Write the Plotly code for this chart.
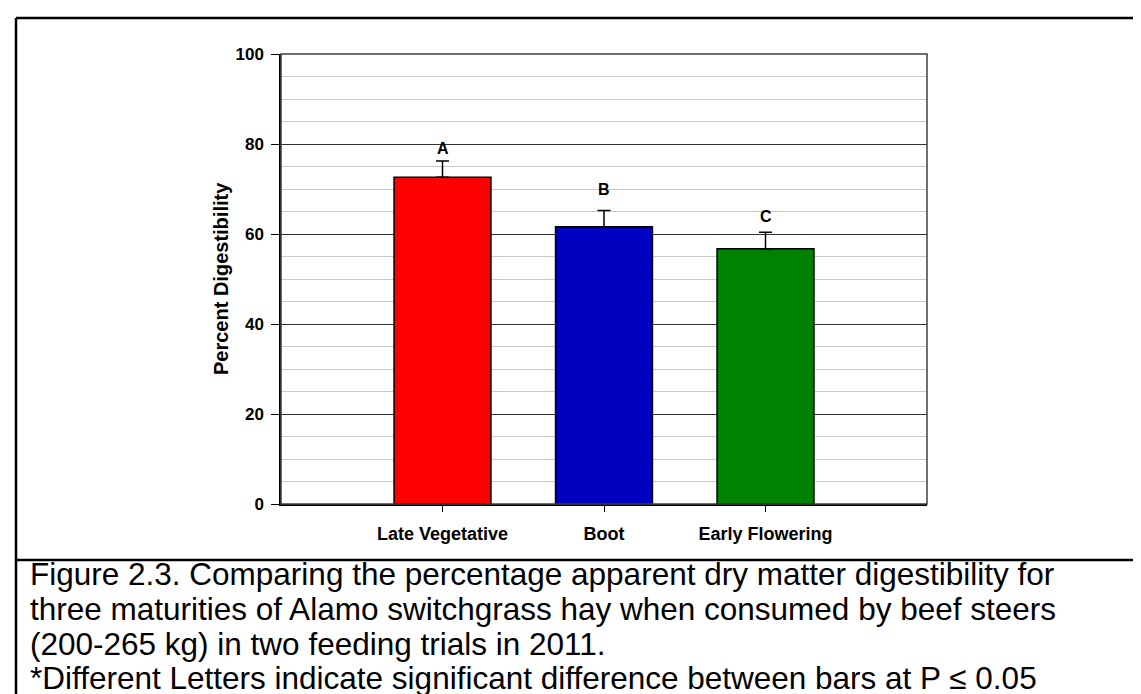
import plotly.graph_objects as go

# ---- data ----
categories = ["Late Vegetative", "Boot", "Early Flowering"]
digestibility = [72.6, 61.6, 56.7]
std_error = [3.6, 3.6, 3.7]
sig_letters = ["A", "B", "C"]
letter_y = [79.1, 69.8, 63.9]
bar_colors = ["#FF0000", "#0000C0", "#008000"]
caption_lines = [
    "Figure 2.3. Comparing the percentage apparent dry matter digestibility for",
    "three maturities of Alamo switchgrass hay when consumed by beef steers",
    "(200-265 kg) in two feeding trials in 2011.",
    "*Different Letters indicate significant difference between bars at P \u2264 0.05",
]

# ---- layout geometry (pixels) ----
W, H = 1141, 694
L, R, T, B = 273, 919, 46, 496


def px_x(x):
    return (x - L) / (R - L)


def px_y(y):
    return (B - y) / (B - T)


FONT = "Arial, 'Liberation Sans', sans-serif"

fig = go.Figure()
fig.add_trace(go.Bar(
    x=categories,
    y=digestibility,
    width=0.6,
    marker=dict(color=bar_colors, line=dict(color="black", width=1.5)),
    error_y=dict(type="data", array=std_error, arrayminus=[0] * len(std_error),
                 symmetric=False, color="black", thickness=1.5, width=6.5),
    showlegend=False,
    hoverinfo="skip",
))

annotations = []
for cat, lab, yv in zip(categories, sig_letters, letter_y):
    annotations.append(dict(x=cat, y=yv, xref="x", yref="y", text=lab, showarrow=False,
                            font=dict(family=FONT, size=16, color="black", weight="bold"),
                            xanchor="center", yanchor="middle"))

annotations.append(dict(x=px_x(213), y=0.5, xref="paper", yref="paper",
                        text="Percent Digestibility", textangle=-90, showarrow=False,
                        font=dict(family=FONT, size=20, color="black", weight="bold"),
                        xanchor="center", yanchor="middle"))

cap_size = 31.5
baselines = [577, 612, 647, 681]
for line, bl in zip(caption_lines, baselines):
    annotations.append(dict(x=px_x(21), y=px_y(bl - 0.3465 * cap_size), xref="paper", yref="paper",
                            text=line, showarrow=False, align="left",
                            font=dict(family=FONT, size=cap_size, color="black"),
                            xanchor="left", yanchor="middle", borderpad=0))

shapes = [
    # plot border (top / right)
    dict(type="rect", xref="paper", yref="paper", x0=0, x1=1, y0=0, y1=1,
         line=dict(color="#404040", width=1.5), layer="above"),
    # outer frame
    dict(type="line", xref="paper", yref="paper", x0=px_x(8), x1=px_x(8),
         y0=px_y(10), y1=px_y(H + 5), line=dict(color="black", width=2.5)),
    dict(type="line", xref="paper", yref="paper", x0=px_x(8), x1=px_x(W + 5),
         y0=px_y(10), y1=px_y(10), line=dict(color="black", width=2.5)),
    dict(type="line", xref="paper", yref="paper", x0=px_x(8), x1=px_x(W + 5),
         y0=px_y(552), y1=px_y(552), line=dict(color="black", width=2.5)),
]

fig.update_layout(
    width=W, height=H,
    margin=dict(l=L, r=W - R, t=T, b=H - B, pad=0),
    paper_bgcolor="white", plot_bgcolor="white",
    font=dict(family=FONT, color="black"),
    bargap=0.4,
    annotations=annotations,
    shapes=shapes,
    xaxis=dict(
        type="category", range=[-1, 3], showline=True, linecolor="black", linewidth=1.5,
        ticks="outside", ticklen=6, tickcolor="black", tickwidth=1,
        tickfont=dict(family=FONT, size=18, color="black", weight="bold"),
        ticklabelstandoff=7, showgrid=False, zeroline=False, fixedrange=True,
    ),
    yaxis=dict(
        range=[0, 100], dtick=20, tick0=0, showline=True, linecolor="black", linewidth=1.5,
        ticks="outside", ticklen=8, tickcolor="black", tickwidth=1,
        tickfont=dict(family=FONT, size=17, color="black", weight="bold"),
        ticklabelstandoff=4,
        showgrid=True, gridcolor="#333333", gridwidth=1, zeroline=False,
        minor=dict(dtick=5, showgrid=True, gridcolor="#c8c8c8", gridwidth=1, ticks=""),
        fixedrange=True,
    ),
)

fig.write_html("out.html")
